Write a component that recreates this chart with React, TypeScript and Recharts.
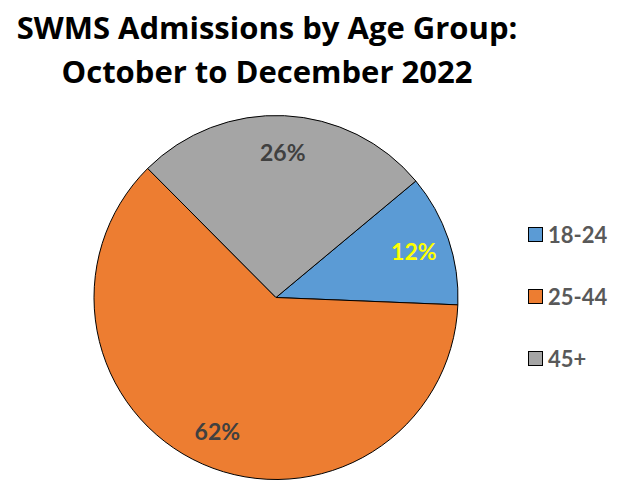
import React from "react";
import { PieChart, Pie, Cell, Legend } from "recharts";

const categories = ["18-24", "25-44", "45+"];
const shares = [11.7, 61.9, 26.4];
const colors = ["#5B9BD5", "#ED7D31", "#A5A5A5"];
const labelColors = ["#FFFF00", "#404040", "#404040"];
const titleLines = ["SWMS Admissions by Age Group:", "October to December 2022"];

const data = categories.map((name, i) => ({ name, value: shares[i] }));

const RAD = Math.PI / 180;
const FONT = "Lato, 'Open Sans', sans-serif";
const TITLE_FONT = "'Open Sans', Lato, sans-serif";

const renderLabel = (props: any) => {
  const { cx, cy, midAngle, outerRadius, percent, index } = props;
  const r = outerRadius * 0.8;
  const x = cx + r * Math.cos(-midAngle * RAD);
  const y = cy + r * Math.sin(-midAngle * RAD);
  return (
    <text
      x={x}
      y={y}
      fill={labelColors[index]}
      textAnchor="middle"
      dominantBaseline="central"
      fontFamily={FONT}
      fontWeight={700}
      fontSize={23}
    >
      {`${Math.round(percent * 100)}%`}
    </text>
  );
};

const renderLegend = (props: any) => {
  const { payload } = props;
  return (
    <div style={{ fontFamily: FONT }}>
      {(payload || []).map((entry: any, i: number) => (
        <div
          key={i}
          style={{ display: "flex", alignItems: "center", height: 62 }}
        >
          <span
            style={{
              display: "inline-block",
              width: 13,
              height: 13,
              background: entry.color,
              border: "1px solid #000",
              marginRight: 5,
            }}
          />
          <span style={{ color: "#595959", fontWeight: 700, fontSize: 22 }}>
            {entry.value}
          </span>
        </div>
      ))}
    </div>
  );
};

export default function App() {
  return (
    <div style={{ position: "absolute", left: 0, top: 0, width: 617, height: 480, background: "#fff" }}>
      <div
        style={{
          position: "absolute",
          left: 0,
          top: 5,
          width: 534,
          textAlign: "center",
          fontFamily: TITLE_FONT,
          fontWeight: 700,
          fontSize: 31,
          lineHeight: "44px",
          color: "#000",
          whiteSpace: "nowrap",
        }}
      >
        {titleLines.map((t, i) => (
          <div key={i}>{t}</div>
        ))}
      </div>
      <PieChart width={617} height={480} margin={{ top: 0, right: 0, bottom: 0, left: 0 }}>
        <Pie
          data={data}
          dataKey="value"
          nameKey="name"
          cx={276}
          cy={297.5}
          outerRadius={182}
          startAngle={39.8}
          endAngle={39.8 - 360}
          stroke="#000"
          strokeWidth={1}
          label={renderLabel}
          labelLine={false}
          isAnimationActive={false}
        >
          {data.map((d, i) => (
            <Cell key={d.name} fill={colors[i]} />
          ))}
        </Pie>
        <Legend
          content={renderLegend}
          wrapperStyle={{ position: "absolute", left: 528, top: 203, width: 90 }}
        />
      </PieChart>
    </div>
  );
}
